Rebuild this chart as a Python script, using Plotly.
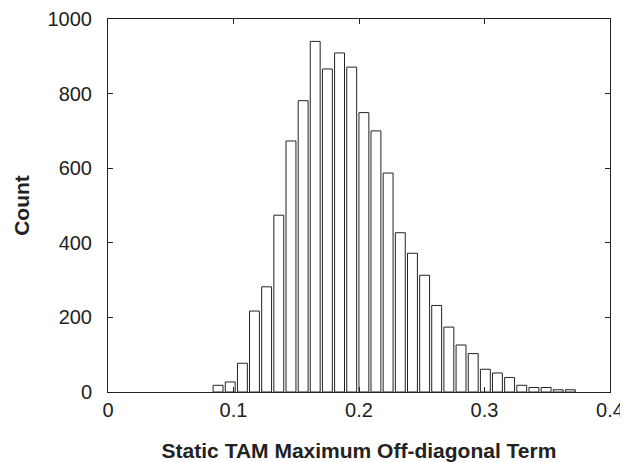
import plotly.graph_objects as go

bin_centers = [0.0877, 0.0974, 0.1071, 0.1167, 0.1264, 0.1361, 0.1458, 0.1555,
               0.1651, 0.1748, 0.1845, 0.1942, 0.2039, 0.2135, 0.2232, 0.2329,
               0.2426, 0.2523, 0.2619, 0.2716, 0.2813, 0.2910, 0.3007, 0.3103,
               0.3200, 0.3297, 0.3394, 0.3491, 0.3587, 0.3684]
counts = [18, 27, 77, 217, 282, 474, 673, 781, 940, 866, 909, 871, 749, 700,
          587, 427, 372, 313, 232, 174, 126, 103, 61, 51, 39, 18, 12, 12, 6, 6]
x_ticks = [0, 0.1, 0.2, 0.3, 0.4]
x_tick_labels = ["0", "0.1", "0.2", "0.3", "0.4"]
y_ticks = [0, 200, 400, 600, 800, 1000]
y_tick_labels = ["0", "200", "400", "600", "800", "1000"]

font_family = "Liberation Sans, Arial, Helvetica, sans-serif"

fig = go.Figure(go.Bar(
    x=bin_centers, y=counts, width=0.0079,
    marker=dict(color="white", line=dict(color="#222222", width=1)),
))

# The page body has an 8px default margin, so the figure is sized to fit.
fig.update_layout(
    width=620, height=454,
    margin=dict(l=100, r=18, t=11, b=70),
    plot_bgcolor="white", paper_bgcolor="white",
    showlegend=False,
    font=dict(family=font_family, size=20, color="#222222"),
)
fig.update_xaxes(
    range=[0, 0.4], tickvals=x_ticks, ticktext=x_tick_labels,
    ticks="inside", ticklen=5, tickcolor="#222222",
    showline=True, linecolor="#222222", linewidth=1, mirror="ticks",
    showgrid=False, zeroline=False, automargin=False, ticklabelstandoff=0,
    title=dict(text="<b>Static TAM Maximum Off-diagonal Term</b>",
               font=dict(size=21), standoff=24),
)
fig.update_yaxes(
    range=[0, 1000], tickvals=y_ticks, ticktext=y_tick_labels,
    ticks="inside", ticklen=5, tickcolor="#222222",
    showline=True, linecolor="#222222", linewidth=1, mirror="ticks",
    showgrid=False, zeroline=False, automargin=False, ticklabelstandoff=11,
    title=dict(text="<b>Count</b>", font=dict(size=21), standoff=12),
)

fig.write_html("out.html")
